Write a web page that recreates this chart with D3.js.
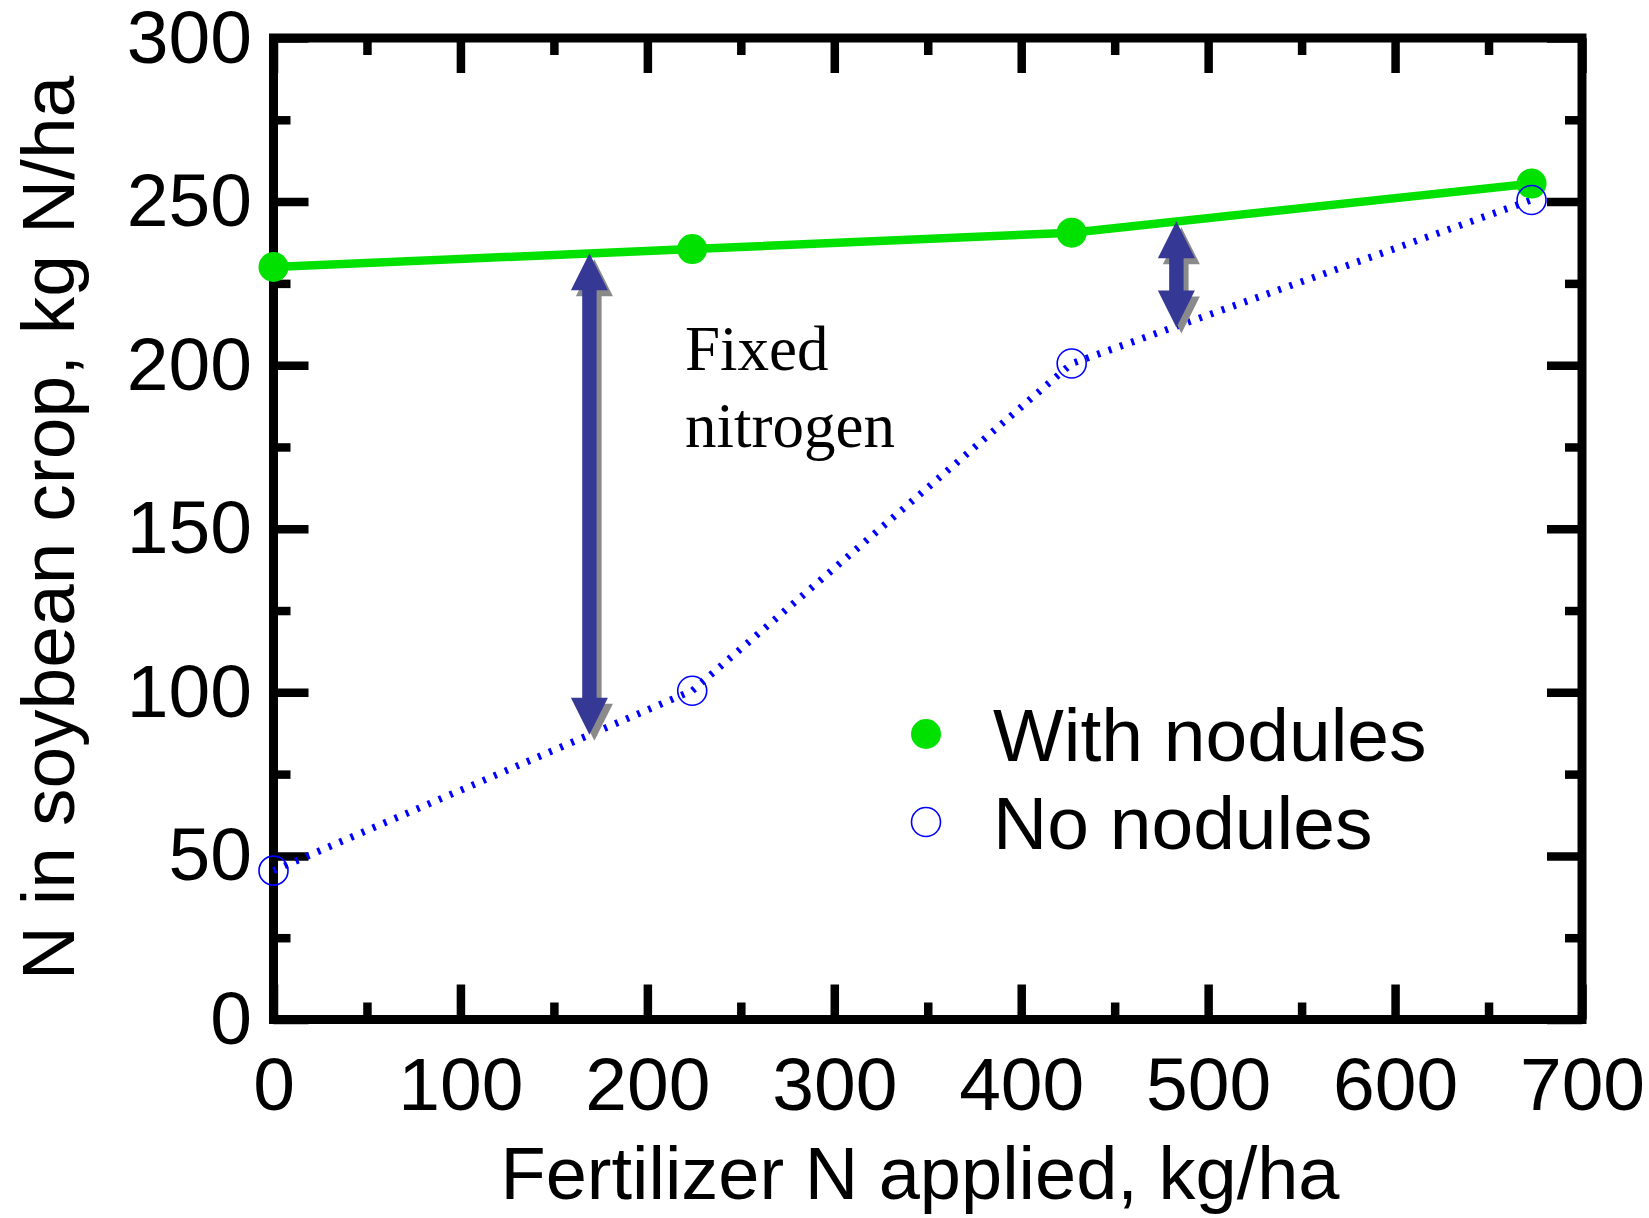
<!DOCTYPE html>
<html><head><meta charset="utf-8">
<script src="https://cdn.jsdelivr.net/npm/d3@7"></script>
<style>body{margin:0;background:#fff} svg{display:block}</style>
</head><body><svg id="c" width="1649" height="1218"></svg>
<script>
// ---- data ----
const fertN = [0, 224, 427, 673];
const withNodules = [230, 235.5, 240.5, 255.5];
const noNodules = [45.5, 100.5, 200.5, 250.5];
const xTicks = [0, 100, 200, 300, 400, 500, 600, 700];
const xMinor = [50, 150, 250, 350, 450, 550, 650];
const yTicks = [0, 50, 100, 150, 200, 250, 300];
const yMinor = [25, 75, 125, 175, 225, 275];
const arrowX = [169, 483];
const arrowBottom = [87, 211.5];
const arrowTop = [234.2, 244];
const seriesNames = ["With nodules", "No nodules"];
const annotation = ["Fixed", "nitrogen"];
const xTitle = "Fertilizer N applied, kg/ha";
const yTitle = "N in soybean crop, kg N/ha";

// ---- layout ----
const svg = d3.select("#c");
const L = 273.5, R = 1582, T = 38, B = 1019.5;
const x = d3.scaleLinear().domain([0, 700]).range([L, R]);
const y = d3.scaleLinear().domain([0, 300]).range([B, T]);
const sans = "'Liberation Sans', Arial, Helvetica, sans-serif";
const serif = "'Liberation Serif', 'Times New Roman', serif";
const GREEN = "#00e100", BLUE = "#0000ff", ARROW = "#363896";

function styleAxis(g, showText) {
  g.select(".domain").remove();
  g.selectAll(".tick line").attr("stroke", "#000").attr("stroke-width", 8.5);
  g.selectAll(".tick text").attr("fill", "#000").style("font-family", sans).style("font-size", "75px");
  if (!showText) g.selectAll(".tick text").remove();
}

// major/minor ticks on all four sides (inward)
svg.append("g").attr("transform", `translate(0,${B})`)
  .call(d3.axisBottom(x).tickValues(xTicks).tickSize(-35).tickPadding(37).tickFormat(d3.format("d")))
  .call(g => styleAxis(g, true));
svg.append("g").attr("transform", `translate(0,${B})`)
  .call(d3.axisBottom(x).tickValues(xMinor).tickSize(-17).tickFormat(""))
  .call(g => styleAxis(g, false));
svg.append("g").attr("transform", `translate(0,${T})`)
  .call(d3.axisTop(x).tickValues(xTicks).tickSize(-35).tickFormat(""))
  .call(g => styleAxis(g, false));
svg.append("g").attr("transform", `translate(0,${T})`)
  .call(d3.axisTop(x).tickValues(xMinor).tickSize(-17).tickFormat(""))
  .call(g => styleAxis(g, false));
svg.append("g").attr("transform", `translate(${L},0)`)
  .call(d3.axisLeft(y).tickValues(yTicks).tickSize(-35).tickPadding(21.5).tickFormat(d3.format("d")))
  .call(g => styleAxis(g, true));
svg.append("g").attr("transform", `translate(${L},0)`)
  .call(d3.axisLeft(y).tickValues(yMinor).tickSize(-17).tickFormat(""))
  .call(g => styleAxis(g, false));
svg.append("g").attr("transform", `translate(${R},0)`)
  .call(d3.axisRight(y).tickValues(yTicks).tickSize(-35).tickFormat(""))
  .call(g => styleAxis(g, false));
svg.append("g").attr("transform", `translate(${R},0)`)
  .call(d3.axisRight(y).tickValues(yMinor).tickSize(-17).tickFormat(""))
  .call(g => styleAxis(g, false));

// frame
svg.append("rect").attr("x", L).attr("y", T).attr("width", R - L).attr("height", B - T)
  .attr("fill", "none").attr("stroke", "#000").attr("stroke-width", 9);

// axis titles
svg.append("text").attr("x", 920).attr("y", 1199).attr("text-anchor", "middle")
  .style("font-family", sans).style("font-size", "74px").text(xTitle);
svg.append("text").attr("transform", "translate(74,528) rotate(-90)").attr("text-anchor", "middle")
  .style("font-family", sans).style("font-size", "75px").text(yTitle);

// series
const ptsWith = fertN.map((d, i) => [d, withNodules[i]]);
const ptsNo = fertN.map((d, i) => [d, noNodules[i]]);
const line = d3.line().x(d => x(d[0])).y(d => y(d[1]));

svg.append("path").attr("d", line(ptsNo)).attr("fill", "none").attr("stroke", BLUE)
  .attr("stroke-width", 7).attr("stroke-dasharray", "3 9");
svg.append("path").attr("d", line(ptsWith)).attr("fill", "none").attr("stroke", GREEN)
  .attr("stroke-width", 8.5);

svg.selectAll("circle.with").data(ptsWith).enter().append("circle").attr("class", "with")
  .attr("cx", d => x(d[0])).attr("cy", d => y(d[1])).attr("r", 15).attr("fill", GREEN);
svg.selectAll("circle.no").data(ptsNo).enter().append("circle").attr("class", "no")
  .attr("cx", d => x(d[0])).attr("cy", d => y(d[1])).attr("r", 14.5)
  .attr("fill", "none").attr("stroke", BLUE).attr("stroke-width", 1.6);

// double arrows
function arrowPath(px, yt, yb) {
  const hw = 18.5, hl = 37, sw = 7.2;
  const p = [[px, yt], [px + hw, yt + hl], [px + sw, yt + hl], [px + sw, yb - hl], [px + hw, yb - hl],
             [px, yb], [px - hw, yb - hl], [px - sw, yb - hl], [px - sw, yt + hl], [px - hw, yt + hl]];
  return "M" + p.map(q => q.join(",")).join("L") + "Z";
}
arrowX.forEach((ax, i) => {
  const d = arrowPath(x(ax), y(arrowTop[i]), y(arrowBottom[i]));
  svg.append("path").attr("d", d).attr("fill", "#8a8a8a").attr("transform", "translate(5,6)");
  svg.append("path").attr("d", d).attr("fill", ARROW);
});

// annotation
svg.append("text").attr("x", 685).attr("y", 370)
  .style("font-family", serif).style("font-size", "63px").text(annotation[0]);
svg.append("text").attr("x", 685).attr("y", 447)
  .style("font-family", serif).style("font-size", "63px").text(annotation[1]);

// legend
const leg = svg.append("g");
leg.append("circle").attr("cx", 926).attr("cy", 734).attr("r", 15).attr("fill", GREEN);
leg.append("circle").attr("cx", 926).attr("cy", 822).attr("r", 14.5).attr("fill", "none")
  .attr("stroke", BLUE).attr("stroke-width", 1.6);
leg.append("text").attr("x", 993).attr("y", 761).style("font-family", sans).style("font-size", "75px").text(seriesNames[0]);
leg.append("text").attr("x", 993).attr("y", 849).style("font-family", sans).style("font-size", "75px").text(seriesNames[1]);
</script></body></html>
